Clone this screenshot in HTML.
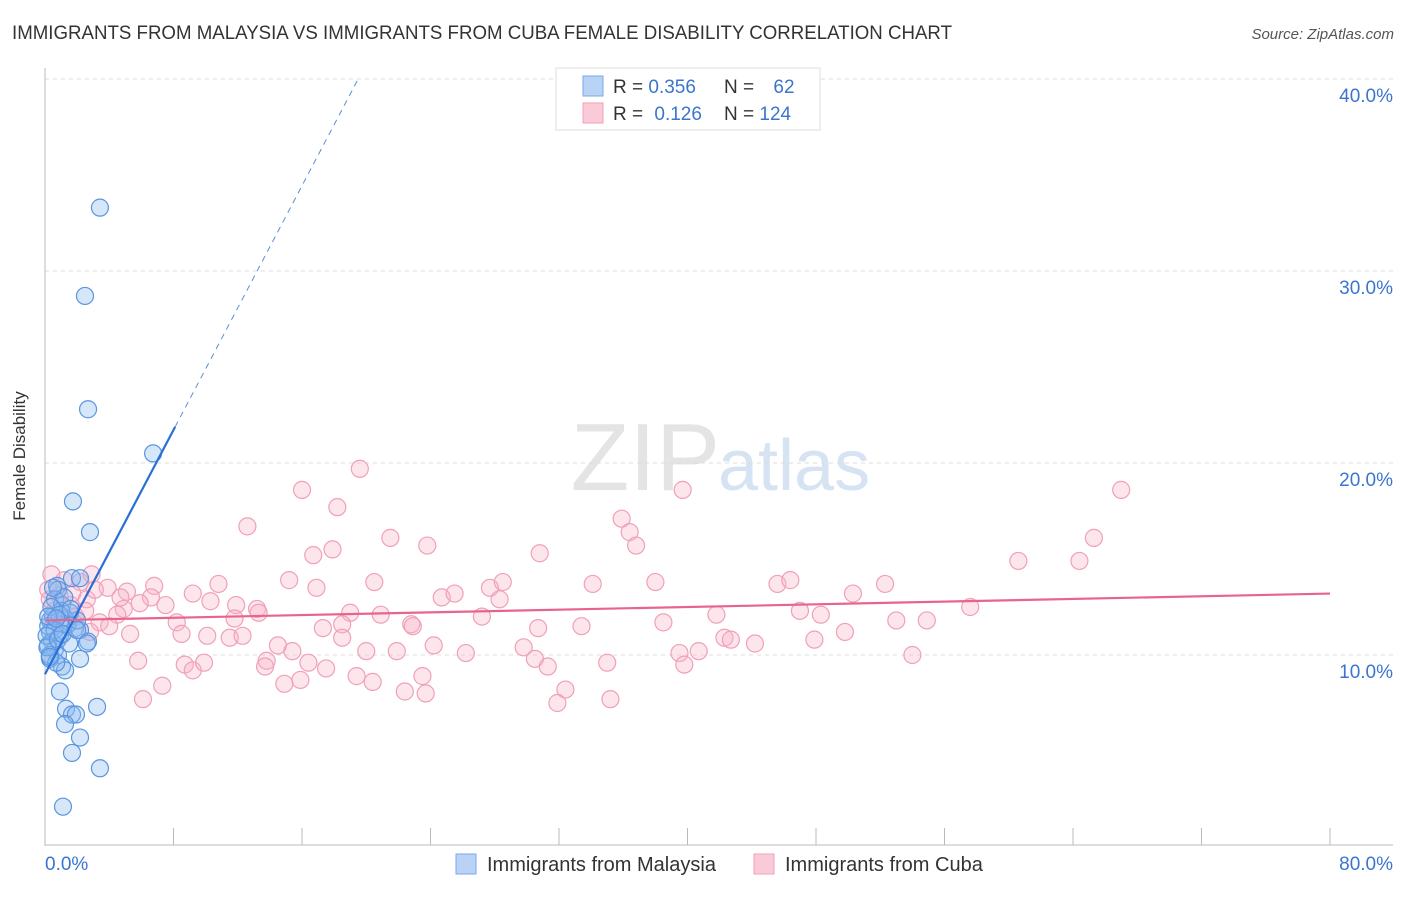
<!DOCTYPE html>
<html><head><meta charset="utf-8"><style>
body{margin:0;background:#fff;font-family:"Liberation Sans",sans-serif}
svg text{font-family:"Liberation Sans",sans-serif}
</style></head><body>
<svg width="1406" height="892" xmlns="http://www.w3.org/2000/svg">
<text x="12" y="39" font-size="19" fill="#333" textLength="940" lengthAdjust="spacingAndGlyphs">IMMIGRANTS FROM MALAYSIA VS IMMIGRANTS FROM CUBA FEMALE DISABILITY CORRELATION CHART</text>
<text x="1394" y="39" font-size="15" fill="#555" font-style="italic" text-anchor="end">Source: ZipAtlas.com</text>
<text x="720" y="490" font-size="96" fill="#e4e4e4" text-anchor="end" font-family="Liberation Serif">ZIP</text>
<text x="718" y="490" font-size="72" fill="#d5e3f3">atlas</text>
<g id="grid"></g>
<line x1="45" y1="68" x2="45" y2="846" stroke="#bbb"/>
<line x1="45" y1="845" x2="1393" y2="845" stroke="#bbb"/>
<text x="25" y="456" font-size="17" fill="#333" text-anchor="middle" transform="rotate(-90 25 456)">Female Disability</text>
<text x="45" y="870" font-size="19" fill="#3a75d0">0.0%</text>
<text x="1393" y="870" font-size="19" fill="#3a75d0" text-anchor="end">80.0%</text>
<g id="pts"></g>
<g id="trends"></g>
<g>
<rect x="556" y="68" width="264" height="62" fill="#fff" stroke="#ddd"/>
<rect x="583" y="76" width="20" height="20" fill="#b8d3f5" stroke="#7aa8e8"/>
<text x="613" y="93" font-size="19" fill="#333">R = <tspan fill="#3a75d0">0.356</tspan></text>
<text x="724" y="93" font-size="19" fill="#333">N = <tspan fill="#3a75d0" dx="14">62</tspan></text>
<rect x="583" y="103" width="20" height="20" fill="#fbcad8" stroke="#f0a0b8"/>
<text x="613" y="120" font-size="19" fill="#333">R = <tspan fill="#3a75d0" dx="6">0.126</tspan></text>
<text x="724" y="120" font-size="19" fill="#333">N = <tspan fill="#3a75d0">124</tspan></text>
</g>
<g>
<rect x="456" y="854" width="20" height="20" fill="#b8d3f5" stroke="#7aa8e8"/>
<text x="487" y="871" font-size="20" fill="#333">Immigrants from Malaysia</text>
</g>
<g>
<rect x="754" y="854" width="20" height="20" fill="#fbcad8" stroke="#f0a0b8"/>
<text x="785" y="871" font-size="20" fill="#333">Immigrants from Cuba</text>
</g>
</svg>
<script>
const yTicks=[10,20,30,40];
const yTickLabels=["10.0%","20.0%","30.0%","40.0%"];
const xTicks=[10,20,30,40,50,60,70,80,90,100];
const blueX=[3.42,2.49,2.68,6.73,1.74,2.8,0.75,1.68,2.18,0.81,0.62,1.06,1.56,1.25,0.31,0.93,1.87,2.18,0.31,0.93,2.68,0.44,0.19,0.62,0.81,0.31,2.18,1.06,1.25,0.93,1.31,1.68,1.93,1.25,2.18,3.24,1.68,3.42,1.12,0.5,0.2,0.6,1.4,0.3,0.7,0.1,0.15,1.0,1.2,0.4,2.0,0.8,1.5,0.3,1.1,0.9,0.5,0.2,1.6,0.7,2.6,2.0];
const blueY=[33.3,28.7,22.8,20.5,18.0,16.4,13.6,14.0,14.0,13.4,12.9,12.6,12.2,11.9,11.8,11.6,11.4,11.3,11.2,11.0,10.7,10.7,10.5,10.3,10.0,9.8,9.8,9.4,9.2,8.1,7.2,6.9,6.9,6.4,5.7,7.3,4.9,4.1,2.1,12.0,11.5,11.3,11.6,10.0,9.6,11.0,10.4,12.3,13.0,12.5,11.8,10.8,10.6,9.9,11.1,12.1,13.5,12.0,12.4,11.9,10.6,11.3];
const pinkX=[19.6,16.0,18.2,12.6,21.5,23.8,17.9,16.7,20.5,15.2,16.9,6.8,10.8,9.2,6.6,5.1,3.9,2.9,2.2,1.7,2.6,7.5,4.9,4.5,8.2,11.9,10.3,13.2,13.3,11.8,19.0,20.9,22.8,22.9,17.3,18.5,24.7,25.5,27.7,28.5,28.3,27.2,30.8,34.1,38.0,39.7,35.9,36.4,36.8,41.8,45.6,46.4,47.0,48.3,50.3,52.3,53.0,54.9,57.6,60.6,64.4,65.3,67.0,5.3,8.5,10.1,11.5,12.3,14.5,15.4,13.8,13.7,16.4,17.5,18.5,20.0,21.9,24.2,26.2,29.8,30.7,33.4,38.5,30.5,31.3,35.0,39.5,40.7,42.3,42.7,44.2,47.9,49.8,54.0,5.8,8.7,9.2,9.9,7.3,6.1,14.9,15.9,19.4,20.4,22.4,23.5,23.7,32.4,31.9,35.2,39.8,1.6,3.1,0.9,0.6,1.9,3.4,1.2,0.3,2.5,4.0,4.7,5.9,2.8,0.2,0.4];
const pinkY=[19.7,18.6,17.7,16.7,16.1,15.7,15.5,15.2,13.8,13.9,13.5,13.6,13.7,13.2,13.0,13.3,13.5,14.2,13.8,13.2,12.9,12.6,12.4,12.1,11.7,12.6,12.8,12.4,12.2,11.9,12.2,12.1,11.6,11.5,11.4,11.6,13.0,13.2,13.5,13.8,12.9,12.0,15.3,13.7,13.8,18.6,17.1,16.4,15.7,12.1,13.7,13.9,12.3,12.1,13.2,13.7,11.8,11.8,12.5,14.9,14.9,16.1,18.6,11.1,11.1,11.0,10.9,11.0,10.5,10.2,9.7,9.4,9.6,9.3,10.9,10.2,10.2,10.5,10.1,10.4,11.4,11.5,11.7,9.8,9.4,9.6,10.1,10.2,10.9,10.8,10.6,10.8,11.2,10.0,9.7,9.5,9.2,9.6,8.4,7.7,8.5,8.7,8.9,8.6,8.1,8.9,8.0,8.2,7.5,7.7,9.5,12.6,13.4,13.1,12.3,12.0,11.7,13.9,12.9,12.3,11.5,13.0,12.7,11.2,13.4,14.2];
const blueTrend=[9.0,1.59];
const pinkTrend=[11.8,0.0175];
const NS="http://www.w3.org/2000/svg";
const sx=v=>45+v*(1285/80);
const sy=v=>847-v*19.2;
function mk(t,a,p){const e=document.createElementNS(NS,t);for(const k in a)e.setAttribute(k,a[k]);p.appendChild(e);return e;}
const grid=document.getElementById('grid');
yTicks.forEach((t,i)=>{
 const l=mk('line',{x1:45,x2:1393,y1:sy(t),y2:sy(t),stroke:'#ddd','stroke-dasharray':'4,4'},grid);
 
 
 const tx=mk('text',{x:1393,y:sy(t)+23,'font-size':19,fill:'#3a75d0','text-anchor':'end'},grid);
 tx.textContent=yTickLabels[i];
 
 
});
xTicks.forEach(t=>{
 const x=45+t*(1285/80)*0.8;
 const l=mk('line',{x1:x,x2:x,y1:828,y2:845,stroke:'#bbb'},grid);
 
 
});
const pts=document.getElementById('pts');
pinkX.forEach((x,i)=>{
 const c=mk('circle',{cx:sx(x),cy:sy(pinkY[i]),r:8.5,fill:'rgba(248,180,200,0.35)',stroke:'#f0a0b8','stroke-width':1.2},pts);
 
 
});
blueX.forEach((x,i)=>{
 const c=mk('circle',{cx:sx(x),cy:sy(blueY[i]),r:8.5,fill:'rgba(140,185,240,0.35)',stroke:'#5a95e0','stroke-width':1.2},pts);
 
 
});
const tr=document.getElementById('trends');
const bf=x=>blueTrend[0]+blueTrend[1]*x;
let l1=mk('line',{x1:sx(0),y1:sy(bf(0)),x2:sx(8.1),y2:sy(bf(8.1)),stroke:'#2a6fd6','stroke-width':2.2},tr);


const xe=(40-blueTrend[0])/blueTrend[1];
let l2=mk('line',{x1:sx(8.1),y1:sy(bf(8.1)),x2:sx(xe),y2:sy(40),stroke:'#5a8ed8','stroke-width':1,'stroke-dasharray':'6,5'},tr);


const pf=x=>pinkTrend[0]+pinkTrend[1]*x;
let l3=mk('line',{x1:sx(0),y1:sy(pf(0)),x2:sx(80),y2:sy(pf(80)),stroke:'#e8648e','stroke-width':2.2},tr);


</script>
</body></html>
